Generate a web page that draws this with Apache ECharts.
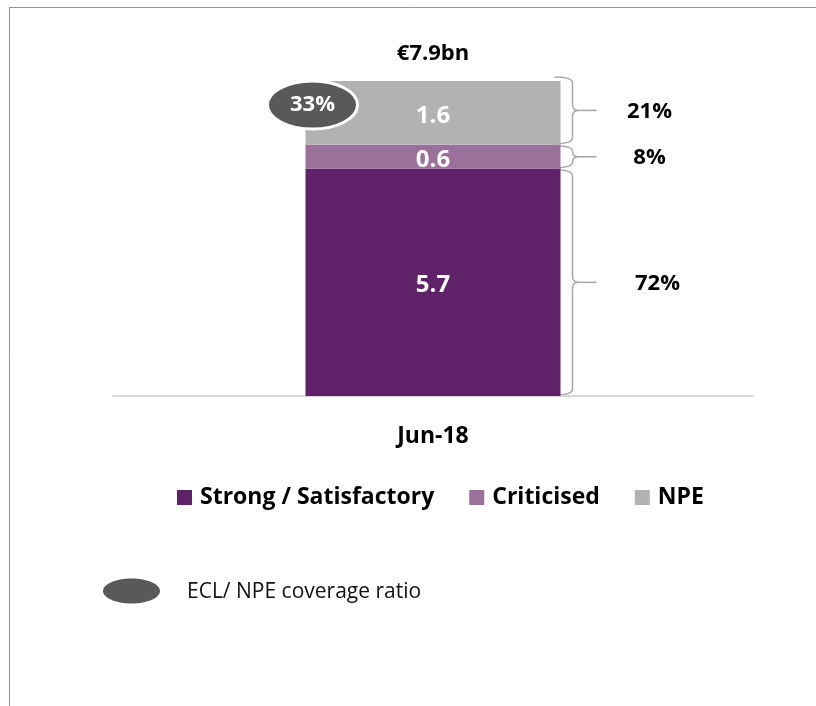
<!DOCTYPE html>
<html>
<head>
<meta charset="utf-8">
<script src="https://cdn.jsdelivr.net/npm/echarts@6/dist/echarts.min.js"></script>
<style>
html, body { margin: 0; padding: 0; background: #fff; }
#main { width: 816px; height: 706px; }
</style>
</head>
<body>
<div id="main"></div>
<script>
// data
var categories = ['Jun-18'];
var seriesNames = ['Strong / Satisfactory', 'Criticised', 'NPE'];
var strongValues = [5.7];
var criticisedValues = [0.6];
var npeValues = [1.6];
var shareLabels = ['72%', '8%', '21%'];
var coverageLabel = '33%';
var keyLabel = 'ECL/ NPE coverage ratio';

var colors = ['#5f2167', '#9b709b', '#b2b2b2'];
var font = '"Open Sans", Lato, sans-serif';

var myChart = echarts.init(document.getElementById('main'));
var total = strongValues[0] + criticisedValues[0] + npeValues[0];

function barSeries(name, data, color) {
    return {
        name: name,
        type: 'bar',
        stack: 'total',
        data: data,
        barWidth: 255,
        itemStyle: { color: color },
        label: {
            show: true,
            position: 'inside',
            color: '#fff',
            fontFamily: font,
            fontWeight: 'bold',
            fontSize: 24,
            offset: [0, 3],
            formatter: function (p) { return p.value.toFixed(1); }
        }
    };
}

var option = {
    animation: false,
    textStyle: { fontFamily: font },
    grid: { left: 113, right: 63, top: 81, bottom: 310 },
    xAxis: {
        type: 'category',
        data: categories,
        axisLine: { lineStyle: { color: '#d9d9d9', width: 2 } },
        axisTick: { show: false },
        axisLabel: { color: '#000', fontFamily: font, fontWeight: 'bold', fontSize: 23, margin: 29 }
    },
    yAxis: { type: 'value', min: 0, max: total, show: false },
    legend: {
        data: seriesNames,
        left: 172,
        top: 481,
        icon: 'rect',
        itemWidth: 15,
        itemHeight: 15,
        itemGap: 35,
        textStyle: { fontSize: 23, fontWeight: 'bold', color: '#000', fontFamily: font, padding: [0, 0, 0, 3] }
    },
    series: [
        barSeries(seriesNames[0], strongValues, colors[0]),
        barSeries(seriesNames[1], criticisedValues, colors[1]),
        barSeries(seriesNames[2], npeValues, colors[2])
    ]
};
myChart.setOption(option);

// annotations placed from the chart's own scale
var base = myChart.convertToPixel({ seriesIndex: 0 }, [0, 0]);
var cx = base[0];
var barLeft = cx - 127.5, barRight = cx + 127.5;
var edges = [0, strongValues[0], strongValues[0] + criticisedValues[0], total].map(function (v) {
    return myChart.convertToPixel({ seriesIndex: 0 }, [0, v])[1];
});

// curly brace built from lines and quadratic curves
function brace(y0, y1) {
    var xs = barRight - 6, xv = barRight + 12, xt = barRight + 36;
    var ym = (y0 + y1) / 2, r = Math.min(6, (y1 - y0) / 4);
    var st = { stroke: '#a6a6a6', lineWidth: 1.5, fill: 'none' };
    function curve(x1, y1_, cpx, cpy, x2, y2) {
        return { type: 'bezierCurve', shape: { x1: x1, y1: y1_, cpx1: cpx, cpy1: cpy, x2: x2, y2: y2 }, style: st };
    }
    function seg(x1, y1_, x2, y2) {
        return { type: 'line', shape: { x1: x1, y1: y1_, x2: x2, y2: y2 }, style: st };
    }
    return {
        type: 'group',
        children: [
            curve(xs, y0, xv, y0, xv, y0 + r),
            seg(xv, y0 + r, xv, ym - r),
            curve(xv, ym - r, xv, ym, xv + 6, ym),
            seg(xv + 6, ym, xt, ym),
            curve(xv + 6, ym, xv, ym, xv, ym + r),
            seg(xv, ym + r, xv, y1 - r),
            curve(xv, y1 - r, xv, y1, xs, y1)
        ]
    };
}

var graphics = [
    { type: 'line', shape: { x1: 9, y1: 7.5, x2: 816, y2: 7.5 }, style: { stroke: '#a88ca9', lineWidth: 1 } },
    { type: 'line', shape: { x1: 9.5, y1: 7, x2: 9.5, y2: 706 }, style: { stroke: '#a08ca2', lineWidth: 1 } },
    {
        type: 'text',
        style: { text: '€' + total.toFixed(1) + 'bn', x: cx, y: edges[3] - 27, textAlign: 'center', textVerticalAlign: 'middle',
            fill: '#000', fontFamily: font, fontWeight: 'bold', fontSize: 22 }
    },
    {
        type: 'ellipse', z: 10,
        shape: { cx: barLeft + 7, cy: edges[3] + 24, rx: 45, ry: 24 },
        style: { fill: '#58595b', stroke: '#fff', lineWidth: 3 }
    },
    {
        type: 'text', z: 11,
        style: { text: coverageLabel, x: barLeft + 7, y: edges[3] + 24, textAlign: 'center', textVerticalAlign: 'middle',
            fill: '#fff', fontFamily: font, fontWeight: 'bold', fontSize: 22 }
    },
    { type: 'ellipse', shape: { cx: 131.5, cy: 591, rx: 28.5, ry: 12.5 }, style: { fill: '#58595b' } },
    {
        type: 'text',
        style: { text: keyLabel, x: 187, y: 592, textVerticalAlign: 'middle', fill: '#111', fontFamily: font, fontSize: 21 }
    }
];

var labelShift = [8, 0, 0];
for (var i = 0; i < 3; i++) {
    var yb = edges[i] - 1, yt = edges[i + 1] + 1;
    if (i === 2) yt = edges[3] - 4;
    graphics.push(brace(yt, yb));
    graphics.push({
        type: 'text',
        style: { text: shareLabels[i], x: barRight + 89 + labelShift[i], y: (yt + yb) / 2 + 1, textAlign: 'center', textVerticalAlign: 'middle',
            fill: '#000', fontFamily: font, fontWeight: 'bold', fontSize: 22 }
    });
}

myChart.setOption({ graphic: graphics });
</script>
</body>
</html>
